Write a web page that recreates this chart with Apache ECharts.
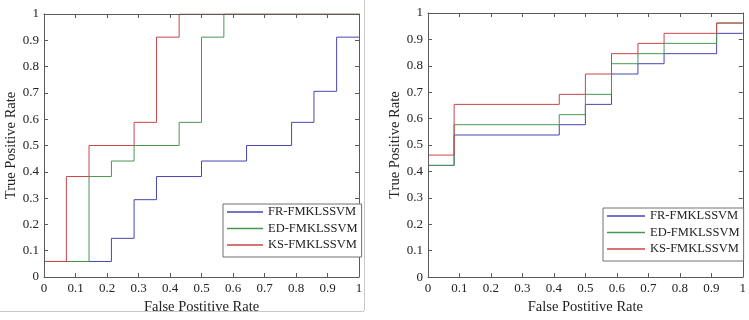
<!DOCTYPE html>
<html>
<head>
<meta charset="utf-8">
<script src="https://cdn.jsdelivr.net/npm/echarts@6/dist/echarts.min.js"></script>
<style>
  html, body { margin: 0; padding: 0; background: #fff; }
  #chart { width: 749px; height: 320px; }
</style>
</head>
<body>
<div id="chart"></div>
<script>
// left panel: ROC step curves, breakpoints (x where the step happens, y after it)
const leftFrX = [0, 0.214, 0.286, 0.357, 0.5, 0.643, 0.786, 0.857, 0.929, 1];
const leftFrY = [0.059, 0.147, 0.294, 0.382, 0.441, 0.5, 0.588, 0.706, 0.912, 0.912];
const leftEdX = [0, 0.143, 0.214, 0.286, 0.429, 0.5, 0.571, 1];
const leftEdY = [0.059, 0.382, 0.441, 0.5, 0.588, 0.912, 1, 1];
const leftKsX = [0, 0.071, 0.143, 0.286, 0.357, 0.429, 1];
const leftKsY = [0.059, 0.382, 0.5, 0.588, 0.912, 1, 1];

// right panel
const rightX = [0, 0.083, 0.417, 0.5, 0.583, 0.667, 0.75, 0.917, 1];
const rightFrY = [0.423, 0.538, 0.577, 0.654, 0.769, 0.808, 0.846, 0.923, 0.923];
const rightEdY = [0.423, 0.577, 0.615, 0.692, 0.808, 0.846, 0.885, 0.962, 0.962];
const rightKsY = [0.462, 0.654, 0.692, 0.769, 0.846, 0.885, 0.923, 0.962, 0.962];

const seriesNames = ["FR-FMKLSSVM", "ED-FMKLSSVM", "KS-FMKLSSVM"];
const seriesColors = ["#4646b4", "#4a9650", "#c84646"];

const FONT = "'Liberation Serif', 'Times New Roman', serif";
const AXIS_COLOR = "#5a5a5a";

const zip = (xs, ys) => xs.map((x, i) => [x, ys[i]]);

function mainAxis(gridIndex, position, name, nameGap) {
  return {
    type: "value",
    gridIndex,
    position,
    z: 10,
    min: 0,
    max: 1,
    interval: 0.1,
    name,
    nameLocation: "middle",
    nameGap,
    nameTextStyle: { fontFamily: FONT, fontSize: 14.5, color: "#222" },
    axisLine: { show: true, onZero: false, lineStyle: { color: AXIS_COLOR, width: 1 } },
    axisTick: { show: true, inside: true, length: 4, lineStyle: { color: AXIS_COLOR } },
    axisLabel: {
      fontFamily: FONT,
      fontSize: 13,
      color: "#222",
      margin: 5,
      formatter: (v) => String(Math.round(v * 10) / 10),
    },
    splitLine: { show: false },
  };
}

// top / right edges of the box, ticks only
function boxAxis(gridIndex, position) {
  return {
    type: "value",
    gridIndex,
    position,
    z: 10,
    min: 0,
    max: 1,
    interval: 0.1,
    axisLine: { show: true, onZero: false, lineStyle: { color: AXIS_COLOR, width: 1 } },
    axisTick: { show: true, inside: true, length: 4, lineStyle: { color: AXIS_COLOR } },
    axisLabel: { show: false },
    splitLine: { show: false },
  };
}

function stepSeries(i, data, axisIndex) {
  return {
    type: "line",
    name: seriesNames[i],
    step: "end",
    symbol: "none",
    xAxisIndex: axisIndex,
    yAxisIndex: axisIndex,
    data,
    lineStyle: { color: seriesColors[i], width: 1 },
    itemStyle: { color: seriesColors[i] },
    emphasis: { disabled: true },
    z: 2 + i,
  };
}

function legendAt(left, top, itemWidth) {
  return {
    orient: "vertical",
    left,
    top,
    z: 20,
    data: seriesNames,
    selectedMode: false,
    icon: "rect",
    backgroundColor: "#fff",
    borderColor: "#707070",
    borderWidth: 1,
    padding: [1, 4, 5, 4],
    itemWidth,
    itemHeight: 1.3,
    itemGap: 2.5,
    textStyle: { fontFamily: FONT, fontSize: 12.5, lineHeight: 14, color: "#222" },
  };
}

const option = {
  animation: false,
  backgroundColor: "#fff",
  grid: [
    { left: 44, top: 14, width: 315, height: 263, containLabel: false },
    { left: 428, top: 13, width: 315, height: 270, containLabel: false },
  ],
  xAxis: [
    mainAxis(0, "bottom", "False Postitive Rate", 20),
    boxAxis(0, "top"),
    mainAxis(1, "bottom", "False Postitive Rate", 19.5),
    boxAxis(1, "top"),
  ],
  yAxis: [
    mainAxis(0, "left", "True Positive Rate", 23.5),
    boxAxis(0, "right"),
    mainAxis(1, "left", "True Positive Rate", 24),
    boxAxis(1, "right"),
  ],
  legend: [legendAt(223, 204, 36), legendAt(603, 208, 38)],
  graphic: [
    // faint frame of the left sub-figure
    { type: "line", shape: { x1: 364.5, y1: 0, x2: 364.5, y2: 311 }, style: { stroke: "#c8c8c8", lineWidth: 1 }, silent: true },
    { type: "line", shape: { x1: 0, y1: 311.5, x2: 364, y2: 311.5 }, style: { stroke: "#c8c8c8", lineWidth: 1 }, silent: true },
  ],
  series: [
    stepSeries(0, zip(leftFrX, leftFrY), 0),
    stepSeries(1, zip(leftEdX, leftEdY), 0),
    stepSeries(2, zip(leftKsX, leftKsY), 0),
    stepSeries(0, zip(rightX, rightFrY), 2),
    stepSeries(1, zip(rightX, rightEdY), 2),
    stepSeries(2, zip(rightX, rightKsY), 2),
  ],
};

const chart = echarts.init(document.getElementById("chart"), null, { renderer: "canvas" });
chart.setOption(option);
</script>
</body>
</html>
